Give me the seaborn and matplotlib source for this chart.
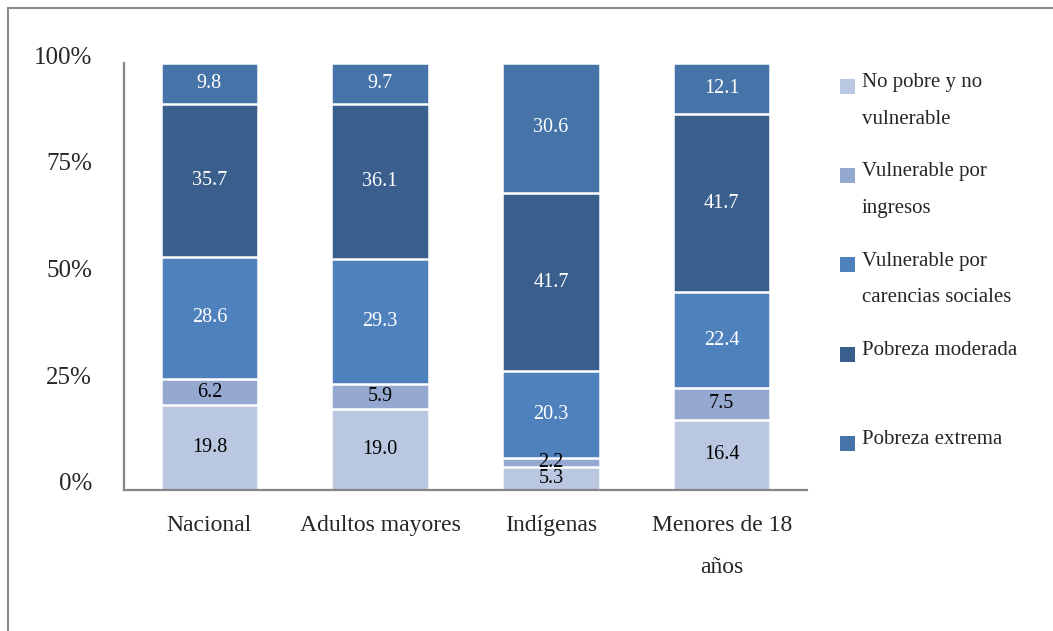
import matplotlib
matplotlib.use("Agg")
import matplotlib.pyplot as plt
import matplotlib.transforms as mtransforms
from matplotlib.lines import Line2D
from matplotlib.patches import Rectangle
import numpy as np
import pandas as pd
import seaborn as sns

# Population groups
categories = ["Nacional", "Adultos mayores", "Indígenas", "Menores de 18\naños"]

# Share of population (%) by poverty / vulnerability condition, bottom to top
no_pobre = [19.8, 19.0, 5.3, 16.4]
vuln_ingresos = [6.2, 5.9, 2.2, 7.5]
vuln_carencias = [28.6, 29.3, 20.3, 22.4]
pobreza_moderada = [35.7, 36.1, 41.7, 41.7]
pobreza_extrema = [9.8, 9.7, 30.6, 12.1]

series_names = [
    "No pobre y no\nvulnerable",
    "Vulnerable por\ningresos",
    "Vulnerable por\ncarencias sociales",
    "Pobreza moderada",
    "Pobreza extrema",
]
series_values = [no_pobre, vuln_ingresos, vuln_carencias, pobreza_moderada, pobreza_extrema]
colors = ["#b9c7e0", "#95a9d0", "#4f81bd", "#3b5f8d", "#4673a8"]
text_colors = ["black", "black", "white", "white", "white"]

sns.set_style("white")
plt.rcParams["font.family"] = ["Liberation Serif", "DejaVu Serif"]

fig = plt.figure(figsize=(10.53, 6.31), dpi=100)
ax = fig.add_axes([124 / 1053, 1 - 490 / 631, (807 - 124) / 1053, (490 - 63) / 631])

data = pd.DataFrame({"grupo": categories})
for name, vals in zip(series_names, series_values):
    data[name] = vals
cum = data[series_names].cumsum(axis=1)

# Draw cumulative layers from the top down so each lower layer covers the one above
for i in range(len(series_names) - 1, -1, -1):
    sns.barplot(x=data["grupo"], y=cum[series_names[i]], color=colors[i], width=0.57,
                edgecolor="white", linewidth=1.8, saturation=1, ax=ax, zorder=2)

# Segment value labels
for i, name in enumerate(series_names):
    vals = data[name].to_numpy()
    bottoms = (cum[name] - data[name]).to_numpy()
    for j, v in enumerate(vals):
        ax.text(j, bottoms[j] + v / 2, f"{v:.1f}", ha="center", va="center",
                fontsize=14.5, color=text_colors[i], zorder=5)

ax.set_ylim(0, 100)
ax.set_xlim(-0.5, 3.5)
ax.set_yticks([0, 25, 50, 75, 100])
ax.set_yticklabels(["0%", "25%", "50%", "75%", "100%"], fontsize=18)
ax.set_xticklabels(categories, fontsize=17, linespacing=2.3, va="top")
ax.set_xlabel("")
ax.set_ylabel("")
ax.tick_params(axis="y", length=0, pad=23)
ax.tick_params(axis="x", length=0, pad=18)
shift = mtransforms.ScaledTranslation(0, 8 / 100, fig.dpi_scale_trans)
for lab in ax.get_yticklabels():
    lab.set_transform(lab.get_transform() + shift)

for side in ["top", "right"]:
    ax.spines[side].set_visible(False)
for side in ["left", "bottom"]:
    ax.spines[side].set_color("#868686")
    ax.spines[side].set_linewidth(1.6)

# Legend drawn as squares and labels on the right
W, H = 1053, 631
legend_y = [86, 175, 265, 354, 443]
for name, col, yc in zip(series_names, colors, legend_y):
    fig.patches.append(Rectangle((840 / W, 1 - (yc + 7.5) / H), 15 / W, 15 / H,
                                 transform=fig.transFigure, facecolor=col,
                                 edgecolor="none"))
    fig.text(862 / W, 1 - (yc - 13) / H, name, fontsize=15, ha="left", va="top",
             linespacing=2.25)

# Chart frame
fig.add_artist(Line2D([7.5 / W, 1], [1 - 7.5 / H, 1 - 7.5 / H], color="#8c8c8c",
                      linewidth=1.5, transform=fig.transFigure))
fig.add_artist(Line2D([7.5 / W, 7.5 / W], [0, 1 - 7.5 / H], color="#8c8c8c",
                      linewidth=1.5, transform=fig.transFigure))

fig.savefig("out.png", dpi=100, facecolor="white")
